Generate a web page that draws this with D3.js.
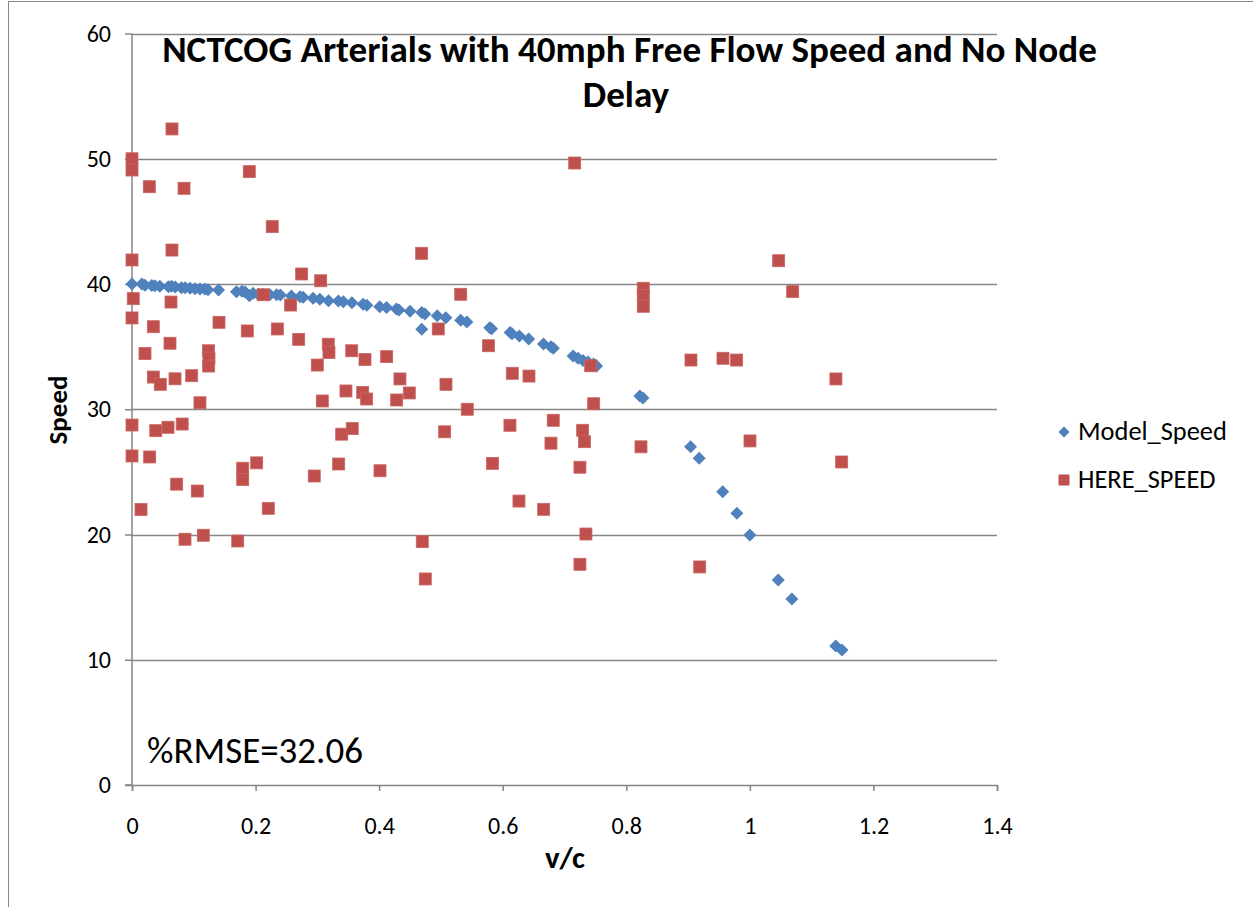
<!DOCTYPE html>
<html>
<head>
<meta charset="utf-8">
<script src="https://cdn.jsdelivr.net/npm/d3@7"></script>
<style>
  html, body { margin: 0; padding: 0; background: #fff; }
  svg { display: block; }
  text { font-family: Carlito, Lato, "Open Sans", sans-serif; fill: #000; }
</style>
</head>
<body>
<svg id="chart" width="1253" height="907"></svg>
<script>
// ---------------- DATA ----------------
const titleLines = ["NCTCOG Arterials with 40mph Free Flow Speed and No Node", "Delay"];
const xLabel = "v/c";
const yLabel = "Speed";
const annotation = "%RMSE=32.06";
const seriesNames = ["Model_Speed", "HERE_SPEED"];
const xTicks = [0, 0.2, 0.4, 0.6, 0.8, 1, 1.2, 1.4];
const yTicks = [0, 10, 20, 30, 40, 50, 60];

// Model_Speed: [v/c, speed]
const modelVC = [0,0.016,0.021,0.032,0.037,0.045,0.059,0.064,0.070,0.080,0.086,0.094,0.102,0.110,0.118,0.123,0.140,
  0.169,0.178,0.183,0.190,0.196,0.204,0.212,0.223,0.234,0.240,0.258,0.272,0.277,0.293,0.304,0.318,0.334,0.342,0.356,
  0.374,0.380,0.401,0.412,0.428,0.432,0.450,0.469,0.474,0.469,0.494,0.508,0.532,0.542,0.579,0.582,0.612,0.615,0.627,
  0.642,0.666,0.678,0.682,0.714,0.722,0.730,0.738,0.747,0.752,0.822,0.827,0.904,0.918,0.956,0.979,1.000,1.046,1.068,
  1.139,1.149];
const modelSpeed = [40.0,40.0,39.9,39.89,39.86,39.82,39.78,39.82,39.76,39.70,39.70,39.66,39.62,39.60,39.60,39.55,39.52,
  39.39,39.42,39.36,39.07,39.26,39.18,39.18,39.15,39.15,39.12,39.04,38.99,38.94,38.86,38.78,38.67,38.64,38.59,38.51,
  38.38,38.30,38.19,38.12,38.00,37.92,37.82,37.72,37.60,36.39,37.47,37.31,37.10,36.97,36.51,36.43,36.13,36.03,35.85,
  35.61,35.21,35.0,34.87,34.25,34.07,33.89,33.77,33.61,33.45,31.06,30.90,27.01,26.08,23.42,21.69,19.96,16.37,14.85,
  11.10,10.78];

// HERE_SPEED: [v/c, speed]
const hereVC = [0,0,0.028,0.0647,0.0842,0.1898,0.227,0,0.0647,0.2746,0.3054,0.002,0.0631,0.2125,0.2568,0,0.0345,
  0.1408,0.1866,0.2352,0.2698,0.3177,0.3188,0.3556,0.0615,0.021,0.1238,0.1246,0.1241,0.0345,0.0458,0.0696,0.0966,
  0.110,0,0.0384,0.0583,0.0812,0,0.0286,0.2018,0.0723,0.1057,0.0146,0.1792,0.1792,0.2206,0.0858,0.1154,0.1711,
  0.2999,0.308,0.3463,0.295,0.3345,0.3394,0.3565,0.532,0.3771,0.4122,0.4957,0.577,0.4337,0.5082,0.3734,0.3798,
  0.4284,0.4488,0.5426,0.5061,0.7165,0.4688,0.6155,0.6425,0.7424,0.7472,0.6117,0.6818,0.7294,0.7323,0.6781,0.8238,
  0.4014,0.5834,0.725,0.6263,0.6663,0.7347,0.4698,0.725,0.4747,0.8275,0.8275,0.8275,1.0466,1.0693,0.9047,0.9565,
  0.9786,1.1393,1.0002,1.1486,0.9188];
const hereSpeed = [50.0,49.1,47.77,52.38,47.64,48.97,44.58,41.92,42.71,40.80,40.26,38.83,38.56,39.14,38.32,37.29,36.59,
  36.94,36.25,36.41,35.58,35.19,34.53,34.67,35.27,34.45,34.67,34.07,33.45,32.57,31.99,32.43,32.68,
  30.52,28.74,28.29,28.56,28.82,26.27,26.19,25.72,24.02,23.47,22.0,25.29,24.39,22.09,19.62,19.94,19.48,
  33.53,30.66,31.46,24.67,25.63,28.01,28.46,39.18,33.97,34.20,36.41,35.07,32.42,31.99,31.34,30.82,
  30.74,31.30,30.0,28.20,49.66,42.45,32.87,32.65,33.47,30.44,28.72,29.12,28.32,27.41,27.29,27.0,
  25.09,25.68,25.37,22.67,22.01,20.04,19.43,17.62,16.45,39.66,39.08,38.22,41.86,39.39,33.93,34.07,
  33.93,32.42,27.47,25.79,17.41];

// ---------------- CHART ----------------
const svg = d3.select("#chart");
const blue = "#4F81BD", red = "#C0504D", grid = "#868686";
const plot = { left: 132, right: 997, top: 33.5, bottom: 785 };
const FONT = "Carlito, Lato, 'Open Sans', sans-serif";

const x = d3.scaleLinear().domain([0, 1.4]).range([plot.left, plot.right]);
const y = d3.scaleLinear().domain([0, 60]).range([plot.bottom, plot.top]);

// outer frame
svg.append("path").attr("d", "M8.5,907 V1.5 H1253").attr("fill", "none").attr("stroke", grid).attr("stroke-width", 1);

// gridlines
svg.append("g").selectAll("line").data(yTicks.filter(d => d > 0)).join("line")
  .attr("x1", plot.left).attr("x2", plot.right)
  .attr("y1", d => Math.round(y(d)) + 0.5).attr("y2", d => Math.round(y(d)) + 0.5)
  .attr("stroke", grid).attr("stroke-width", 1.5);

// axes
const tickFs = 24;
const fmtX = d => String(+d.toFixed(1));
const xAxis = svg.append("g").attr("transform", `translate(0,${plot.bottom})`)
  .call(d3.axisBottom(x).tickValues(xTicks).tickSize(6).tickPadding(26).tickFormat(fmtX));
const yAxis = svg.append("g").attr("transform", `translate(${plot.left},0)`)
  .call(d3.axisLeft(y).tickValues(yTicks).tickSize(7).tickPadding(14).tickFormat(d3.format("d")));
[xAxis, yAxis].forEach(a => {
  a.attr("font-size", tickFs).attr("font-family", FONT);
  a.select(".domain").attr("stroke", grid).attr("stroke-width", 1.5);
  a.selectAll(".tick line").attr("stroke", grid).attr("stroke-width", 1.5);
  a.selectAll(".tick text").attr("fill", "#000");
});
yAxis.select(".domain").attr("d", `M-7,${plot.bottom}H0V${plot.top}`);

// markers
const diamond = r => `M0,${-r}L${r},0L0,${r}L${-r},0Z`;
svg.append("g").selectAll("path").data(d3.zip(modelVC, modelSpeed)).join("path")
  .attr("d", diamond(6.5))
  .attr("transform", d => `translate(${x(d[0])},${y(d[1])})`)
  .attr("fill", blue);

const sq = 12;
svg.append("g").selectAll("rect").data(d3.zip(hereVC, hereSpeed)).join("rect")
  .attr("x", d => x(d[0]) - sq / 2).attr("y", d => y(d[1]) - sq / 2)
  .attr("width", sq).attr("height", sq)
  .attr("fill", red).attr("stroke", "#c96562").attr("stroke-width", 0.8);

// fit helper: scale the font so the text spans the measured width
function fit(sel, target) {
  const w = sel.node().getComputedTextLength();
  const fs = parseFloat(sel.attr("font-size"));
  sel.attr("font-size", fs * target / w);
  return fs * target / w;
}

// title
const t1 = svg.append("text").attr("x", 629.5).attr("y", 62).attr("text-anchor", "middle")
  .attr("font-weight", "bold").attr("font-size", 30).text(titleLines[0]);
const tfs = fit(t1, 935);
svg.append("text").attr("x", 626).attr("y", 107).attr("text-anchor", "middle")
  .attr("font-weight", "bold").attr("font-size", tfs).text(titleLines[1]);

// axis titles
const xl = svg.append("text").attr("x", 565).attr("y", 868).attr("text-anchor", "middle")
  .attr("font-weight", "bold").attr("font-size", 26).text(xLabel);
fit(xl, 40);
const yl = svg.append("text").attr("transform", "translate(67,410) rotate(-90)").attr("text-anchor", "middle")
  .attr("font-weight", "bold").attr("font-size", 22).text(yLabel);
fit(yl, 69);

// annotation
const ann = svg.append("text").attr("x", 147).attr("y", 763).attr("font-size", 28).text(annotation);
fit(ann, 216);

// legend
const lg = svg.append("g");
lg.append("path").attr("d", diamond(5.5)).attr("transform", "translate(1064,432)").attr("fill", blue);
lg.append("rect").attr("x", 1058.5).attr("y", 474.5).attr("width", 11).attr("height", 11).attr("fill", red);
const l1 = lg.append("text").attr("x", 1078).attr("y", 440).attr("font-size", 22).text(seriesNames[0]);
const lfs = fit(l1, 149);
lg.append("text").attr("x", 1078).attr("y", 488).attr("font-size", lfs).text(seriesNames[1]);
</script>
</body>
</html>
